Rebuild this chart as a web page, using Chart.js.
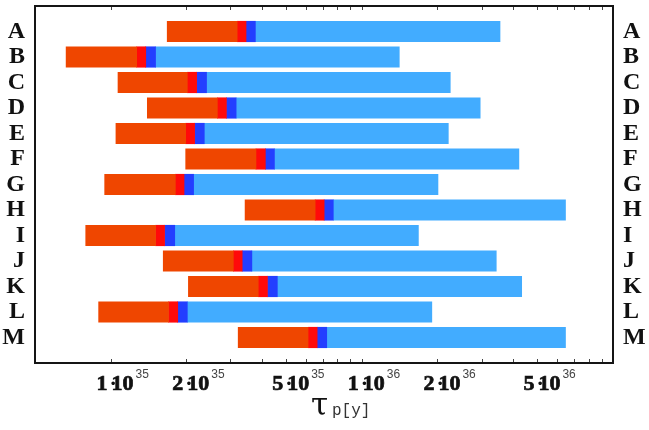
<!DOCTYPE html>
<html>
<head>
<meta charset="utf-8">
<script src="https://cdn.jsdelivr.net/npm/chart.js@4"></script>
<style>
  html, body { margin: 0; padding: 0; background: #fff; }
  #wrap { width: 649px; height: 430px; }
</style>
</head>
<body>
<div id="wrap"><canvas id="lifetimes"></canvas></div>
<script>
// rows, top to bottom
const categories = ['A', 'B', 'C', 'D', 'E', 'F', 'G', 'H', 'I', 'J', 'K', 'L', 'M'];

// segment edges for each row (years)
const orangeStart = [1.68e35, 6.65e34, 1.07e35, 1.40e35, 1.05e35, 1.99e35, 9.47e34, 3.43e35, 7.96e34, 1.62e35, 2.04e35, 8.96e34, 3.22e35];
const redStart    = [3.19e35, 1.27e35, 2.02e35, 2.66e35, 1.99e35, 3.79e35, 1.81e35, 6.52e35, 1.51e35, 3.08e35, 3.87e35, 1.70e35, 6.11e35];
const blueStart   = [3.46e35, 1.38e35, 2.20e35, 2.89e35, 2.16e35, 4.13e35, 1.96e35, 7.08e35, 1.64e35, 3.34e35, 4.21e35, 1.85e35, 6.64e35];
const lightStart  = [3.77e35, 1.51e35, 2.41e35, 3.16e35, 2.36e35, 4.49e35, 2.14e35, 7.70e35, 1.80e35, 3.65e35, 4.61e35, 2.02e35, 7.25e35];
const lightEnd    = [3.55e36, 1.41e36, 2.25e36, 2.96e36, 2.21e36, 4.22e36, 2.01e36, 6.47e36, 1.68e36, 3.43e36, 4.33e36, 1.90e36, 6.47e36];

// axis
const xMin = 5e34;
const xMax = 1e37;
const tickExponents = [35, 36];
const tickMantissas = [1, 2, 5];
const minorMantissas = [1, 2, 3, 4, 5, 6, 7, 8, 9];

// one empty slot above and below the rows
const rowLabels = [''].concat(categories, ['']);

function segment(from, to) {
    return [null].concat(from.map((v, i) => [v, to[i]]), [null]);
}

const SERIF = '"Liberation Serif", "Times New Roman", serif';

// frame, inward ticks and the 1·10^n labels
const axisDecor = {
    id: 'axisDecor',
    afterDraw(chart) {
        const ctx = chart.ctx;
        const a = chart.chartArea;
        const x = chart.scales.x;
        ctx.save();

        ctx.strokeStyle = '#444';
        ctx.lineWidth = 1;
        x.ticks.forEach(t => {
            const px = Math.round(x.getPixelForValue(t.value)) + 0.5;
            ctx.beginPath();
            ctx.moveTo(px, a.bottom);
            ctx.lineTo(px, a.bottom - 4);
            ctx.moveTo(px, a.top);
            ctx.lineTo(px, a.top + 4);
            ctx.stroke();
        });

        ctx.strokeStyle = '#151515';
        ctx.lineWidth = 2;
        ctx.strokeRect(a.left, a.top, a.right - a.left, a.bottom - a.top);

        ctx.fillStyle = '#111';
        ctx.strokeStyle = '#111';
        ctx.lineWidth = 0.7;
        ctx.textBaseline = 'alphabetic';
        tickExponents.forEach(e => {
            tickMantissas.forEach(m => {
                const px = x.getPixelForValue(m * Math.pow(10, e));
                const base = a.bottom + 27;
                ctx.font = 'bold 22px ' + SERIF;
                ctx.textAlign = 'right';
                ctx.fillText(String(m), px - 3, base);
                ctx.strokeText(String(m), px - 3, base);
                ctx.textAlign = 'left';
                ctx.fillText('10', px + 1, base);
                ctx.strokeText('10', px + 1, base);
                const w = ctx.measureText('10').width;
                ctx.fillText('\u00B7', px - 1, base);
                ctx.font = '12px "Liberation Sans", Arial, sans-serif';
                ctx.fillStyle = '#444';
                ctx.fillText(String(e), px + 3 + w, base - 12);
                ctx.fillStyle = '#111';
            });
        });

        // axis title
        ctx.textAlign = 'left';
        ctx.font = '31px "DejaVu Serif", serif';
        ctx.fillText('\u03C4', 311, a.bottom + 52);
        ctx.font = '16px "Liberation Mono", "Courier New", monospace';
        ctx.fillStyle = '#333';
        ctx.fillText('p[y]', 332, a.bottom + 52);
        ctx.restore();
    }
};

const letterFont = { family: SERIF, weight: 'bold', size: 24, lineHeight: 1 };

function noEdgePadding(scale, width) {
    scale.width = width;
    scale.paddingTop = 0;
    scale.paddingBottom = 0;
}

function draw() {
    new Chart(document.getElementById('lifetimes').getContext('2d'), {
        type: 'bar',
        data: {
            labels: rowLabels,
            datasets: [
                { data: segment(orangeStart, redStart), backgroundColor: 'rgb(239, 70, 0)' },
                { data: segment(redStart, blueStart), backgroundColor: 'rgb(255, 10, 10)' },
                { data: segment(blueStart, lightStart), backgroundColor: 'rgb(35, 62, 255)' },
                { data: segment(lightStart, lightEnd), backgroundColor: 'rgb(66, 172, 255)' }
            ]
        },
        options: {
            indexAxis: 'y',
            responsive: true,
            maintainAspectRatio: false,
            animation: false,
            layout: { padding: { top: 6 } },
            datasets: {
                bar: { grouped: false, barThickness: 20.5, borderWidth: 0 }
            },
            plugins: {
                legend: { display: false },
                tooltip: { enabled: false }
            },
            scales: {
                x: {
                    type: 'logarithmic',
                    min: xMin,
                    max: xMax,
                    position: 'bottom',
                    grid: { display: false, drawTicks: false },
                    border: { display: false },
                    ticks: { display: false },
                    afterBuildTicks: scale => {
                        const list = [];
                        tickExponents.forEach(e => minorMantissas.forEach(m => list.push({ value: m * Math.pow(10, e) })));
                        scale.ticks = list;
                    },
                    afterFit: scale => { scale.height = 67; }
                },
                y: {
                    type: 'category',
                    position: 'left',
                    offset: false,
                    grid: { display: false, drawTicks: false },
                    border: { display: false },
                    ticks: { autoSkip: false, padding: 10, color: '#111', font: letterFont },
                    afterFit: scale => noEdgePadding(scale, 35)
                },
                y2: {
                    type: 'category',
                    position: 'right',
                    offset: false,
                    labels: rowLabels,
                    grid: { display: false, drawTicks: false },
                    border: { display: false },
                    ticks: { autoSkip: false, padding: 10, color: '#111', font: letterFont },
                    afterFit: scale => noEdgePadding(scale, 36)
                }
            }
        },
        plugins: [axisDecor]
    });
}

Promise.all([
    document.fonts.load('bold 24px "Liberation Serif"'),
    document.fonts.load('31px "DejaVu Serif"'),
    document.fonts.load('16px "Liberation Mono"')
]).then(draw, draw);
</script>
</body>
</html>
